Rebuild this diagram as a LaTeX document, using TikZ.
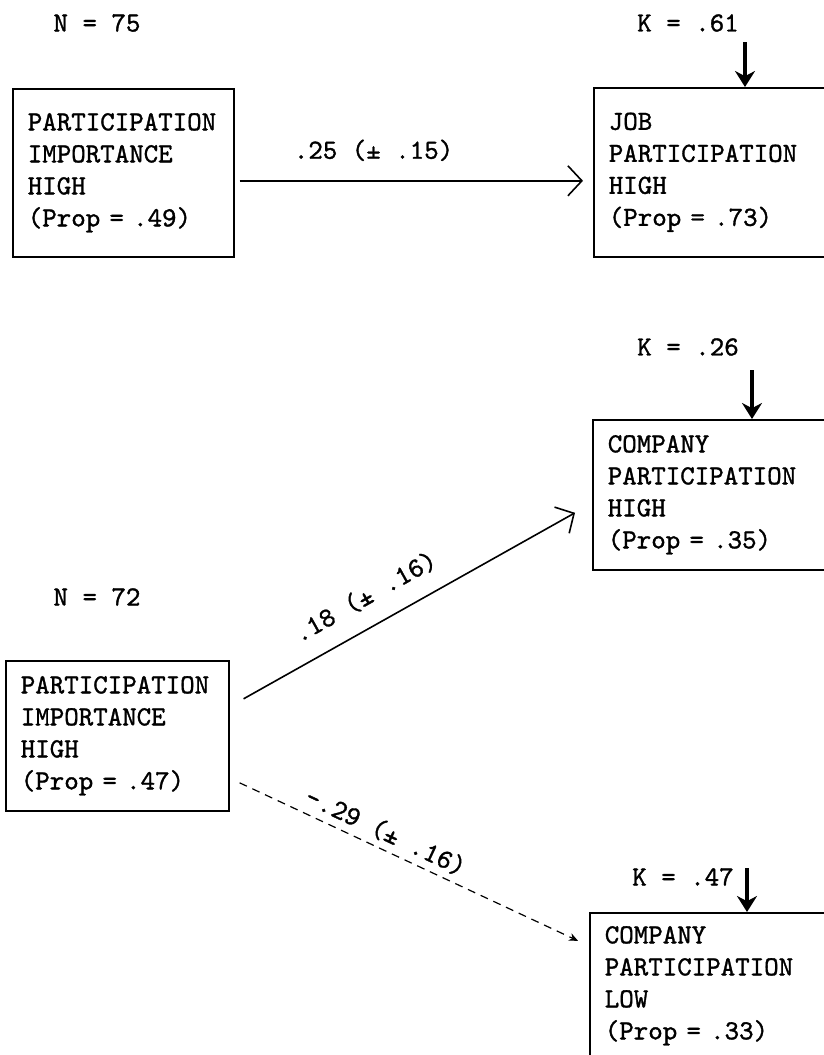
\documentclass[tikz,border=0pt]{standalone}
\usepackage{fontspec}
\setmonofont{lmmono10-regular.otf}[FakeBold=1.2]
\usetikzlibrary{arrows.meta,positioning}

\begin{document}
\begin{tikzpicture}[x=1pt, y=1pt,
  font=\ttfamily\fontsize{27.6pt}{32pt}\selectfont,
  varbox/.style={draw, line width=1.6pt, anchor=north west, align=left, inner xsep=15pt, inner ysep=0pt, text width=#1},
  effect/.style={line width=1.6pt, -{Straight Barb[length=14pt,width=30pt,line width=1.6pt]}},
  weak/.style={line width=1.2pt, dash pattern=on 8pt off 6pt, -{Stealth[length=9pt,width=8pt]}},
  coef/.style={inner sep=1pt},
  karrow/.style={line width=3.6pt, -{Stealth[length=16pt,width=20pt]}}]
  \useasboundingbox (0,0) rectangle (824,-1055);
  \clip (0,0) rectangle (824,-1055);
  % top row
  \node (n1) at (97,-23) {N = 75};
  \node[varbox=191pt, minimum height=168pt] (pia) at (12,-88) {PARTICIPATION\\IMPORTANCE\\HIGH\\(Prop = .49)};
  \node (k1) at (688,-23) {K = .61};
  \node[varbox=230pt, minimum height=169pt] (jph) at (593,-87) {JOB\\PARTICIPATION\\HIGH\\(Prop = .73)};
  \coordinate (k1top) at (745,-42);
  \draw[karrow] (k1top) -- (k1top |- jph.north);
  \draw[effect] ([xshift=5pt,yshift=-8pt]pia.east) -- node[coef, pos=0.39, above=18pt] {.25 (± .15)} ([xshift=-10pt,yshift=-8.5pt]jph.west);
  % lower part
  \node (k2) at (688,-347) {K = .26};
  \node[varbox=230pt, minimum height=150pt] (cph) at (592,-419) {COMPANY\\PARTICIPATION\\HIGH\\(Prop = .35)};
  \coordinate (k2top) at (752,-370);
  \draw[karrow] (k2top) -- (k2top |- cph.north);
  \node (n2) at (97,-597) {N = 72};
  \node[varbox=193pt, minimum height=150pt] (pib) at (5,-660) {PARTICIPATION\\IMPORTANCE\\HIGH\\(Prop = .47)};
  \node (k3) at (683,-877) {K = .47};
  \node[varbox=230pt, minimum height=146pt] (cpl) at (589,-912) {COMPANY\\PARTICIPATION\\LOW\\(Prop = .33)};
  \coordinate (k3top) at (747,-868);
  \draw[karrow] (k3top) -- (k3top |- cpl.north);
  \draw[effect] ([xshift=14pt,yshift=37pt]pib.east) -- node[coef, pos=0.41, sloped, above=17pt] {.18 (± .16)} ([xshift=-17pt,yshift=-18pt]cph.west);
  \draw[weak] ([xshift=10pt,yshift=-47pt]pib.east) -- node[coef, pos=0.41, sloped, above=5pt] {-.29 (± .16)} ([xshift=-11pt,yshift=45pt]cpl.west);
\end{tikzpicture}
\end{document}
